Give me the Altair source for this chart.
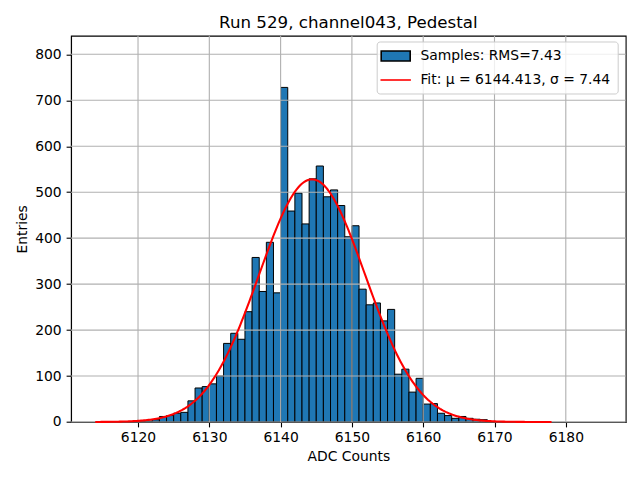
import altair as alt
import numpy as np
import pandas as pd

# ---- data ----
bin_left = list(range(6120, 6170))
counts = [1, 2, 5, 12, 14, 19, 21, 46, 74, 77,
          83, 100, 171, 193, 180, 240, 358, 284, 391, 281,
          728, 459, 498, 431, 529, 557, 490, 505, 471, 403,
          427, 289, 255, 259, 220, 245, 104, 115, 65, 95,
          39, 40, 19, 14, 8, 12, 8, 6, 5, 1]
x_ticks = [6120, 6130, 6140, 6150, 6160, 6170, 6180]
y_ticks = [0, 100, 200, 300, 400, 500, 600, 700, 800]
fit_mu = 6144.413
fit_sigma = 7.44
fit_amp = 528.0
fit_range = (6114, 6178)
series_names = ["Samples: RMS=7.43", "Fit: μ = 6144.413, σ = 7.44"]
title_text = "Run 529, channel043, Pedestal"

hist = pd.DataFrame({"x": bin_left, "x2": [b + 1 for b in bin_left], "n": counts})
fx = np.linspace(fit_range[0], fit_range[1], 300)
fit = pd.DataFrame({"x": fx, "y": fit_amp * np.exp(-0.5 * ((fx - fit_mu) / fit_sigma) ** 2)})
xg = pd.DataFrame({"v": x_ticks})
yg = pd.DataFrame({"v": y_ticks})
leg = pd.DataFrame({"series": series_names, "x": [6000, 6000], "y": [0, 0]})

FONT = "DejaVu Sans"
xscale = alt.Scale(domain=[6110.6, 6188.4], nice=False, zero=False)
yscale = alt.Scale(domain=[0, 840.5], nice=False)

axis_common = dict(grid=False, tickColor="black", tickWidth=1.1, tickSize=4.9,
                   domainColor="black", domainWidth=1.1, labelColor="black",
                   labelFont=FONT, labelFontSize=13.9, titleFont=FONT,
                   titleFontSize=13.9, titleFontWeight="normal", titleColor="black",
                   labelFlush=False, labelOverlap=False, format="d")

xaxis = alt.Axis(values=x_ticks, title="ADC Counts", labelPadding=4, titlePadding=5, **axis_common)
yaxis = alt.Axis(values=y_ticks, title="Entries", labelPadding=4.9, titlePadding=5, **axis_common)

bars = alt.Chart(hist).mark_rect(fill="#1f77b4", stroke="black", strokeWidth=1).encode(
    x=alt.X("x:Q", scale=xscale, axis=xaxis),
    x2="x2:Q",
    y=alt.Y("n:Q", scale=yscale, axis=yaxis),
    y2=alt.datum(0),
)

vgrid = alt.Chart(xg).mark_rule(color="#b0b0b0", strokeWidth=1.1).encode(
    x=alt.X("v:Q", scale=xscale))
hgrid = alt.Chart(yg).mark_rule(color="#b0b0b0", strokeWidth=1.1).encode(
    y=alt.Y("v:Q", scale=yscale))

line = alt.Chart(fit).mark_line(color="red", strokeWidth=2.08).encode(
    x=alt.X("x:Q", scale=xscale),
    y=alt.Y("y:Q", scale=yscale),
)

rect_path = "M-2.05,-0.707L2.05,-0.707L2.05,0.707L-2.05,0.707Z"
line_path = "M-2.15,0L2.15,0"
legend = alt.Legend(title=None, orient="none", legendX=305.7, legendY=5.8,
                    padding=6.5, rowPadding=7.0, symbolSize=200, symbolOffset=4.5,
                    labelOffset=16.7, symbolStrokeWidth=1.6,
                    labelFont=FONT, labelFontSize=13.9, labelColor="black", labelLimit=400,
                    fillColor="rgba(255,255,255,0.8)", strokeColor="#cccccc",
                    cornerRadius=3)

carrier = alt.Chart(leg).mark_point(filled=True, clip=True, opacity=1).encode(
    x=alt.X("x:Q", scale=xscale),
    y=alt.Y("y:Q", scale=yscale),
    fill=alt.Fill("series:N", scale=alt.Scale(domain=series_names, range=["#1f77b4", "red"]), legend=legend),
    stroke=alt.Stroke("series:N", scale=alt.Scale(domain=series_names, range=["black", "red"]), legend=legend),
    shape=alt.Shape("series:N", scale=alt.Scale(domain=series_names, range=[rect_path, line_path]), legend=legend),
)

chart = alt.layer(bars, vgrid, hgrid, line, carrier).properties(
    width=554.7,
    height=386.3,
    title=alt.TitleParams(title_text, font=FONT, fontSize=16.67, fontWeight="normal",
                          color="black", anchor="middle", frame="group", offset=3),
    padding={"left": 63, "top": 27.7, "right": 6, "bottom": 48},
    autosize=alt.AutoSizeParams(type="none"),
).configure_view(stroke="black", strokeWidth=1.1)

chart.save("out.html", embed_options={"renderer": "svg", "actions": False})
